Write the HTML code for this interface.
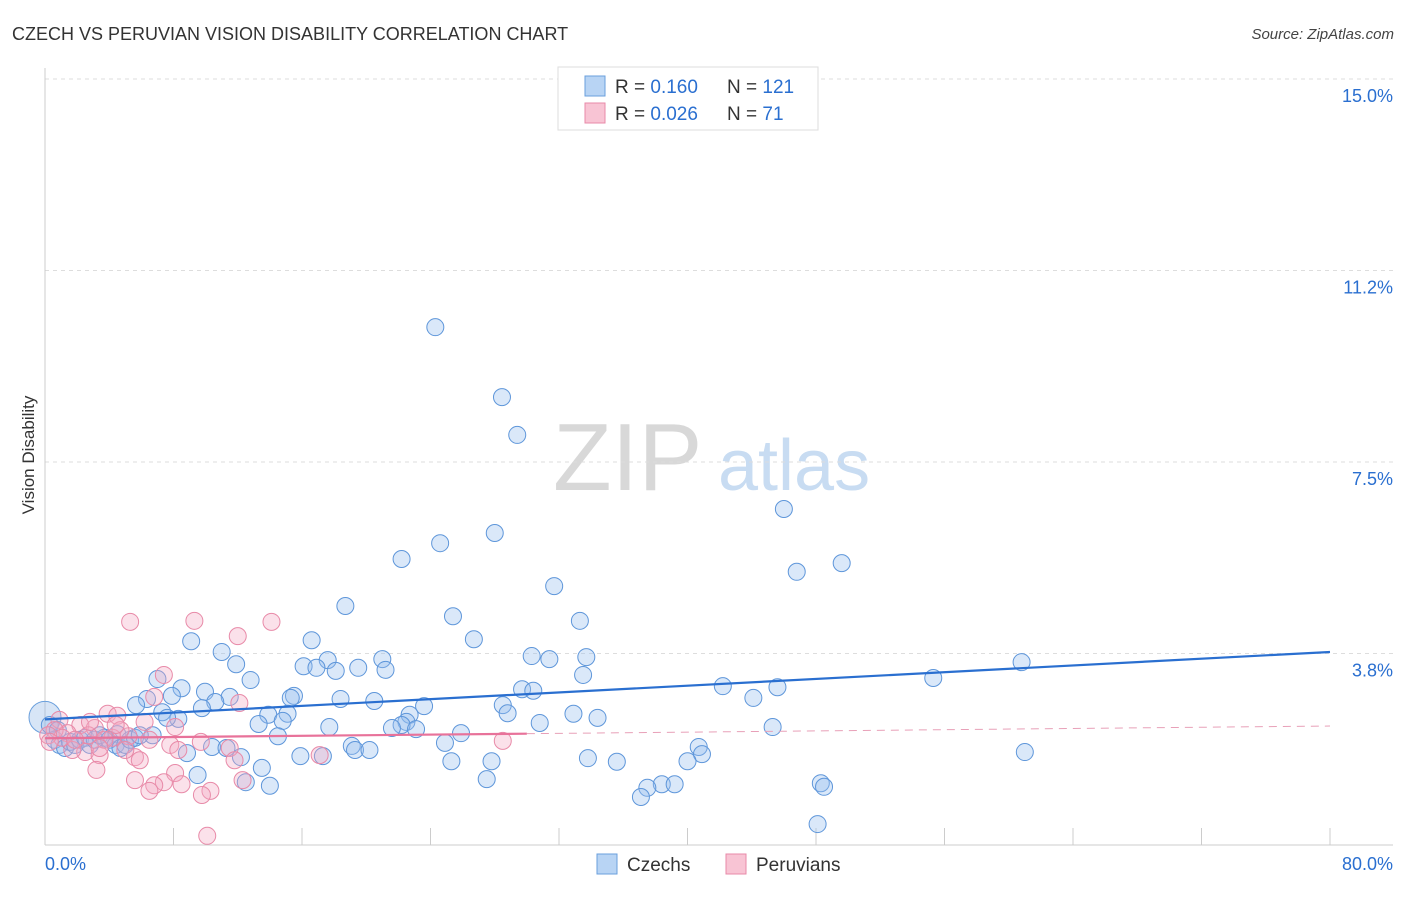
<!DOCTYPE html>
<html><head><meta charset="utf-8"><style>
body{margin:0;background:#fff;font-family:"Liberation Sans",sans-serif}
svg text{font-family:"Liberation Sans",sans-serif}
</style></head><body>
<svg id="chart" width="1406" height="892" xmlns="http://www.w3.org/2000/svg">
<text x="12" y="40" font-size="18" fill="#333">CZECH VS PERUVIAN VISION DISABILITY CORRELATION CHART</text>
<text x="1394" y="39" font-size="15" fill="#444" text-anchor="end" font-style="italic">Source: ZipAtlas.com</text>
<g>
<text x="553" y="490" font-size="96" font-family="Liberation Serif" fill="#d8d8d8">ZIP</text>
<text x="718" y="490" font-size="72" fill="#c8dcf2">atlas</text>
</g>
<text transform="translate(34,455) rotate(-90)" font-size="17" fill="#333" text-anchor="middle">Vision Disability</text>
<g id="grid"></g><g id="axes"></g><g id="marks"></g>
<g>
<rect x="558" y="67" width="260" height="63" fill="#fff" stroke="#ddd"/>
<rect x="585" y="76" width="20" height="20" fill="#b8d4f4" stroke="#6a9fdc"/>
<rect x="585" y="103" width="20" height="20" fill="#f8c4d4" stroke="#e88aa8"/>
<text x="615" y="93" font-size="19" fill="#333">R = <tspan fill="#2a6fd0">0.160</tspan></text>
<text x="727" y="93" font-size="19" fill="#333">N = <tspan fill="#2a6fd0">121</tspan></text>
<text x="615" y="120" font-size="19" fill="#333">R = <tspan fill="#2a6fd0">0.026</tspan></text>
<text x="727" y="120" font-size="19" fill="#333">N = <tspan fill="#2a6fd0">  71</tspan></text>
</g>
<g>
<rect x="597" y="854" width="20" height="20" fill="#b8d4f4" stroke="#6a9fdc"/>
<text x="627" y="871" font-size="19" fill="#333">Czechs</text>
<rect x="726" y="854" width="20" height="20" fill="#f8c4d4" stroke="#e88aa8"/>
<text x="756" y="871" font-size="19" fill="#333">Peruvians</text>
</g>
</svg>
<script>
const yTicks=[3.75,7.5,11.25,15];
const yTickLabels=["3.8%","7.5%","11.2%","15.0%"];
const xTicks=[0,8,16,24,32,40,48,56,64,72,80];
const czechX=[24.3,28.45,29.4,46.0,28.0,24.6,22.2,46.8,49.6,31.7,18.7,25.4,33.3,26.7,16.6,9.1,11.0,21.0,30.3,31.4,33.7,17.6,16.1,16.9,19.5,18.1,21.2,11.9,60.8,33.5,7.0,12.8,55.3,8.5,9.96,42.2,45.6,29.7,30.4,15.5,15.3,11.5,7.9,6.35,18.4,20.5,44.1,5.67,10.6,23.6,28.5,9.77,7.3,28.8,13.9,15.1,22.7,32.9,34.4,8.3,7.6,22.5,13.3,14.8,22.2,17.7,21.6,30.8,23.1,45.3,25.9,14.5,6.7,4.5,3.7,24.9,19.1,10.4,11.3,19.3,20.2,40.7,40.9,61.0,8.84,12.2,15.9,17.3,33.8,25.3,35.6,27.8,40.0,13.5,9.5,27.5,48.3,12.5,14.0,38.4,37.5,39.2,48.5,37.1,48.1,0.3,0.6,0.9,1.25,1.56,1.87,2.18,2.5,2.8,3.1,3.4,4.0,4.4,4.7,5.0,5.3,5.6,5.9,0.8];
const czechY=[10.14,8.77,8.03,6.58,6.11,5.91,5.60,5.35,5.52,5.07,4.68,4.48,4.39,4.03,4.01,3.99,3.78,3.64,3.70,3.64,3.68,3.62,3.50,3.47,3.47,3.41,3.43,3.54,3.58,3.33,3.25,3.23,3.27,3.07,3.0,3.11,3.09,3.05,3.02,2.92,2.88,2.90,2.92,2.86,2.86,2.82,2.88,2.74,2.80,2.72,2.74,2.68,2.60,2.58,2.55,2.57,2.55,2.57,2.49,2.47,2.49,2.41,2.37,2.43,2.35,2.31,2.29,2.39,2.27,2.31,2.19,2.13,2.15,2.17,2.10,2.0,1.94,1.92,1.90,1.86,1.86,1.92,1.78,1.82,1.80,1.72,1.74,1.74,1.70,1.64,1.63,1.64,1.64,1.51,1.37,1.29,1.21,1.23,1.16,1.19,1.12,1.19,1.14,0.94,0.41,2.35,2.06,1.96,1.90,2.02,1.96,2.06,2.10,1.96,2.06,2.15,2.06,1.96,1.90,1.96,2.06,2.10,2.15,2.25];
const peruX=[5.3,9.3,14.1,12.0,7.4,6.8,12.1,3.9,4.5,0.9,2.2,3.1,6.2,8.1,1.4,2.7,4.2,5.2,6.5,9.7,7.8,28.5,11.5,8.3,2.5,1.7,3.4,5.6,17.1,5.9,11.8,3.2,8.1,5.6,7.4,6.8,8.5,6.5,10.3,9.77,12.3,10.1,0.6,1.06,1.87,3.7,4.7,2.8,0.2,0.3,4.4,3.4,5.0];
const peruY=[4.37,4.39,4.37,4.09,3.33,2.90,2.78,2.57,2.53,2.45,2.35,2.29,2.41,2.31,2.19,2.15,2.10,2.13,2.06,2.02,1.96,2.04,1.90,1.86,1.82,1.86,1.76,1.72,1.76,1.66,1.66,1.47,1.41,1.27,1.23,1.17,1.19,1.06,1.06,0.98,1.27,0.18,2.25,2.10,2.06,2.06,2.25,2.41,2.15,2.02,2.35,1.90,1.86];
const czechTrend=[2.46,3.78];   // at x=0 and x=80
const peruTrend=[2.09,2.33];    // at x=0 and x=80, solid to 30
const NS="http://www.w3.org/2000/svg";
const sx=v=>45+v/80*1285;
const sy=v=>845-v/3.75*191.5;
function mk(tag,attrs,parent){const e=document.createElementNS(NS,tag);for(const k in attrs)e.setAttribute(k,attrs[k]);parent.appendChild(e);return e;}
const grid=document.getElementById('grid'),axes=document.getElementById('axes'),marks=document.getElementById('marks');
yTicks.forEach((t,i)=>{
 const l=mk('line',{x1:45,x2:1393,y1:sy(t),y2:sy(t),stroke:'#ddd','stroke-dasharray':'4,4'},grid);
 
 
 const tx=mk('text',{x:1393,y:sy(t)+23,'font-size':18,fill:'#2a6fd0','text-anchor':'end'},axes);
 tx.textContent=yTickLabels[i];
 
 
});
const xa=mk('line',{x1:45,x2:1393,y1:845,y2:845,stroke:'#ccc'},axes);


const ya=mk('line',{x1:45,x2:45,y1:68,y2:845,stroke:'#ccc'},axes);


xTicks.forEach(t=>{
 const l=mk('line',{x1:sx(t),x2:sx(t),y1:828,y2:845,stroke:'#ccc'},axes);
 
 
});
[["0.0%",45,"start"],["80.0%",1393,"end"]].forEach(a=>{
 const t=mk('text',{x:a[1],y:870,'font-size':18,fill:'#2a6fd0','text-anchor':a[2]},axes);
 t.textContent=a[0];
 
 
});
const big=mk('circle',{cx:sx(0),cy:sy(2.5),r:16,fill:'rgba(140,180,230,0.35)',stroke:'#6a9fdc','stroke-width':1},marks);


czechX.forEach((x,i)=>{
 const c=mk('circle',{cx:sx(x),cy:sy(czechY[i]),r:8.5,fill:'rgba(150,190,238,0.35)',stroke:'#5e96da','stroke-width':1},marks);
 
 
});
peruX.forEach((x,i)=>{
 const c=mk('circle',{cx:sx(x),cy:sy(peruY[i]),r:8.5,fill:'rgba(244,170,196,0.35)',stroke:'#e88aa8','stroke-width':1},marks);
 
 
});
const cl=mk('line',{x1:sx(0),y1:sy(czechTrend[0]),x2:sx(80),y2:sy(czechTrend[1]),stroke:'#2a6fd0','stroke-width':2.2},marks);


const py=x=>peruTrend[0]+(peruTrend[1]-peruTrend[0])*x/80;
const pl=mk('line',{x1:sx(0),y1:sy(py(0)),x2:sx(30),y2:sy(py(30)),stroke:'#e8729a','stroke-width':2.2},marks);


const pd=mk('line',{x1:sx(30),y1:sy(py(30)),x2:sx(80),y2:sy(py(80)),stroke:'#e8a0b8','stroke-width':1,'stroke-dasharray':'8,6'},marks);


</script>
</body></html>
